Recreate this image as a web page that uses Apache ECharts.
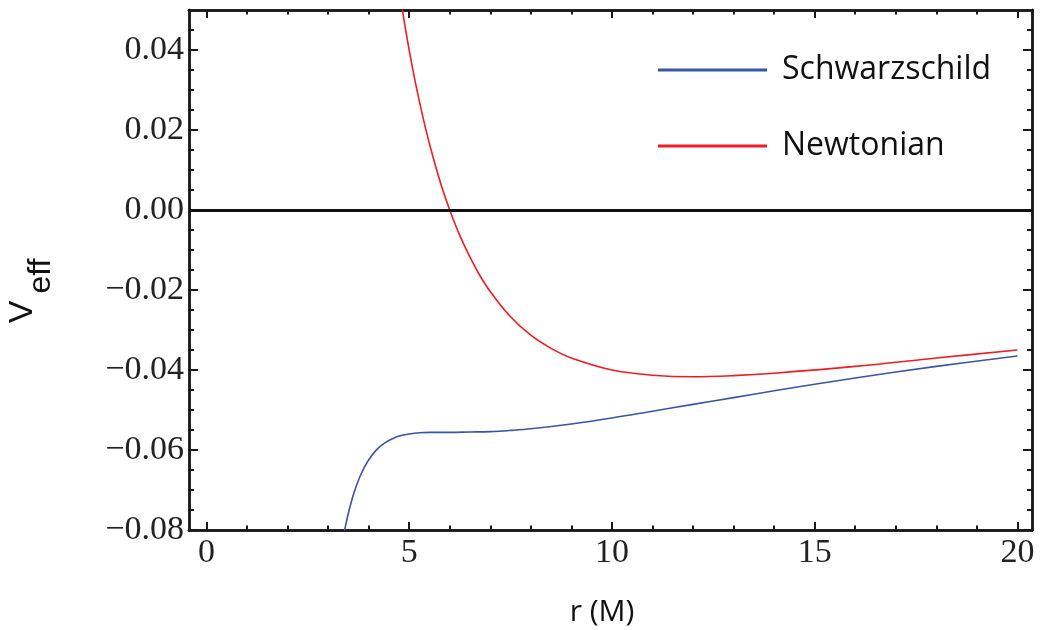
<!DOCTYPE html>
<html>
<head>
<meta charset="utf-8">
<script src="https://cdn.jsdelivr.net/npm/echarts@6/dist/echarts.min.js"></script>
<style>
  html, body { margin: 0; padding: 0; background: #fff; }
  #chart { width: 1040px; height: 630px; }
</style>
</head>
<body>
<div id="chart"></div>
<script>
// values (r in M, Veff)
var rSchw = [3.4, 3.5, 3.6, 3.7, 3.8, 3.9, 4.0, 4.2, 4.4, 4.6, 4.8, 5.0, 5.25, 5.5, 6, 6.5, 7, 7.5, 8, 9, 10, 11, 12, 13, 14, 16, 18, 20];
var vSchw = [-0.0804, -0.0758, -0.0720, -0.0689, -0.0663, -0.0642, -0.0625, -0.0599, -0.0582, -0.0571, -0.0564, -0.0560, -0.0557, -0.0556, -0.0556, -0.0555, -0.0554, -0.0551, -0.0547, -0.0535, -0.0520, -0.0503, -0.0486, -0.0469, -0.0452, -0.0420, -0.0391, -0.0365];

var rNewt = [4.7, 4.8, 4.9, 5.0, 5.1, 5.2, 5.4, 5.6, 5.8, 6.0, 6.25, 6.5, 6.75, 7.0, 7.5, 8, 8.5, 9, 10, 11, 12, 13, 14, 16, 18, 20];
var vNewt = [0.0589, 0.0521, 0.0458, 0.0400, 0.0346, 0.0296, 0.0206, 0.0128, 0.0059, 0.0000, -0.0064, -0.0118, -0.0165, -0.0204, -0.0267, -0.0313, -0.0346, -0.0370, -0.0400, -0.0413, -0.0417, -0.0414, -0.0408, -0.0391, -0.0370, -0.0350];

var xMajor = [0, 5, 10, 15, 20];
var xMinor = [1, 2, 3, 4, 6, 7, 8, 9, 11, 12, 13, 14, 16, 17, 18, 19];
var yMajor = [-0.08, -0.06, -0.04, -0.02, 0, 0.02, 0.04];
var yMinor = [-0.075, -0.07, -0.065, -0.055, -0.05, -0.045, -0.035, -0.03, -0.025, -0.015, -0.01, -0.005,
              0.005, 0.01, 0.015, 0.025, 0.03, 0.035, 0.045];

var frameColor = '#1a1a1a';

function pairs(xs, ys) {
    var out = [];
    for (var i = 0; i < xs.length; i++) {
        out.push([xs[i], ys[i]]);
    }
    return out;
}

function fmtY(v) {
    var s = Math.abs(v).toFixed(2);
    return v < -1e-9 ? '\u2212' + s : s;
}

// one axis per side for major ticks + labels, one for minor ticks
function xAxisDef(pos, ticks, len, labels) {
    return {
        type: 'value', position: pos, min: -0.43, max: 20.36,
        axisLine: { show: true, onZero: false, lineStyle: { color: frameColor, width: 2.5 } },
        axisTick: { show: true, inside: true, length: len, customValues: ticks, lineStyle: { color: frameColor, width: 2 } },
        axisLabel: labels ? {
            show: true, customValues: ticks, margin: 6,
            fontFamily: 'Liberation Serif', fontSize: 34, color: '#222'
        } : { show: false },
        splitLine: { show: false }
    };
}

function yAxisDef(pos, ticks, len, labels) {
    return {
        type: 'value', position: pos, min: -0.08, max: 0.05,
        axisLine: { show: true, onZero: false, lineStyle: { color: frameColor, width: 2.5 } },
        axisTick: { show: true, inside: true, length: len, customValues: ticks, lineStyle: { color: frameColor, width: 2 } },
        axisLabel: labels ? {
            show: true, customValues: ticks, margin: 5, formatter: fmtY,
            fontFamily: 'Liberation Serif', fontSize: 34, color: '#222'
        } : { show: false },
        splitLine: { show: false }
    };
}

var option = {
    backgroundColor: '#fff',
    animation: false,
    grid: { left: 189, right: 8, top: 10, bottom: 100 },
    xAxis: [
        xAxisDef('bottom', xMajor, 8, true),
        xAxisDef('bottom', xMinor, 4.5, false),
        xAxisDef('top', xMajor, 8, false),
        xAxisDef('top', xMinor, 4.5, false)
    ],
    yAxis: [
        yAxisDef('left', yMajor, 9, true),
        yAxisDef('left', yMinor, 5, false),
        yAxisDef('right', yMajor, 9, false),
        yAxisDef('right', yMinor, 5, false)
    ],
    legend: {
        orient: 'vertical',
        left: 653, top: 45,
        itemWidth: 109, itemHeight: 3, itemGap: 36,
        icon: 'rect',
        data: [
            { name: 'Schwarzschild', itemStyle: { color: '#3b55a5' } },
            { name: 'Newtonian', itemStyle: { color: '#ee1c25' } }
        ],
        textStyle: { fontFamily: 'Open Sans', fontSize: 32, color: '#111', lineHeight: 40, padding: [0, 0, 0, 10] }
    },
    graphic: [
        { type: 'text', x: 23, y: 312, rotation: Math.PI / 2,
          style: { text: 'V', font: '34px "Liberation Sans"', fill: '#111', align: 'center', verticalAlign: 'middle' } },
        { type: 'text', x: 41, y: 276, rotation: Math.PI / 2,
          style: { text: 'eff', font: '32px "Liberation Sans"', fill: '#111', align: 'center', verticalAlign: 'middle' } },
        { type: 'text', x: 602, y: 612,
          style: { text: 'r (M)', font: '30px "Open Sans"', fill: '#111', align: 'center', verticalAlign: 'middle' } }
    ],
    series: [
        {
            name: 'Schwarzschild', type: 'line',
            xAxisIndex: 0, yAxisIndex: 0,
            data: pairs(rSchw, vSchw),
            symbol: 'none', smooth: 0.35, clip: true,
            lineStyle: { color: '#3b55a5', width: 1.6 },
            markLine: {
                silent: true, symbol: 'none', label: { show: false },
                lineStyle: { color: '#111', width: 2.8, type: 'solid' },
                data: [{ yAxis: 0 }]
            }
        },
        {
            name: 'Newtonian', type: 'line',
            xAxisIndex: 0, yAxisIndex: 0,
            data: pairs(rNewt, vNewt),
            symbol: 'none', smooth: 0.35, clip: true,
            lineStyle: { color: '#ee1c25', width: 1.6 }
        }
    ]
};

var chart = echarts.init(document.getElementById('chart'));
chart.setOption(option);
</script>
</body>
</html>
